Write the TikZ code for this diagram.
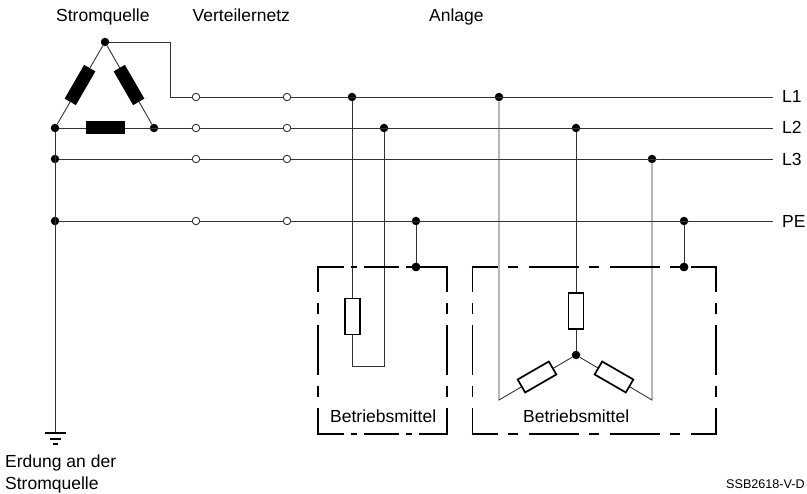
\documentclass[tikz,border=0pt]{standalone}
\usepackage{fontspec}
\setmainfont{Liberation Sans}
\usepackage{tikz}
\usetikzlibrary{calc}
\usetikzlibrary{positioning}

\tikzset{
	wire/.style={line width=0.9pt,color=black!80},
	dot/.style={circle,fill=black,inner sep=0pt,minimum size=8.5pt},
	opendot/.style={circle,draw=black!80,fill=white,line width=0.9pt,inner sep=0pt,minimum size=7.5pt},
	winding/.style={rectangle,fill=black,inner sep=0pt,minimum width=39pt,minimum height=13pt},
	load/.style={rectangle,draw=black,fill=white,line width=1.7pt,inner sep=0pt,minimum width=36pt,minimum height=15pt},
	frame/.style={line width=1.9pt,shorten <=-0.95pt,shorten >=-0.95pt},
	framesmall/.style={frame,dash pattern=on 35pt off 7pt on 6pt off 7pt,dash phase=8pt},
	framewide/.style={frame,dash pattern=on 50pt off 10.5pt on 10pt off 10.5pt,dash phase=24pt},
	frametall/.style={frame,dash pattern=on 50pt off 11pt on 11pt off 11pt,dash phase=24pt},
	label/.style={inner sep=0pt,anchor=base west,font=\fontsize{17.5}{20}\selectfont},
}

\begin{document}
\begin{tikzpicture}[x=1pt,y=-1pt]
	\useasboundingbox (0,0) rectangle (807,494);

	% source triangle
	\node[dot] (top) at (105,42) {};
	\node[dot] (sl) at (55,128) {};
	\node[dot] (sr) at (154,128) {};
	\coordinate (bend a) at (170,42);
	\coordinate (bend b) at (170,97);

	% line ends
	\coordinate (l1 end) at (772.5,97);
	\coordinate (l2 end) at (772.5,128);
	\coordinate (l3 end) at (772.5,159);
	\coordinate (pe end) at (772.5,221);
	\node[dot] (l3 start) at (55,159) {};
	\node[dot] (pe start) at (55,221) {};

	% earth
	\coordinate (earth) at (55,433);
	\coordinate (e1a) at (44.5,433);
	\coordinate (e1b) at (65.5,433);
	\coordinate (e2a) at (49.5,439);
	\coordinate (e2b) at (60.5,439);
	\coordinate (e3a) at (52.5,444);
	\coordinate (e3b) at (57.5,444);

	% tapping points
	\node[dot] (a1) at (352,97) {};
	\node[dot] (a2) at (384,128) {};
	\node[dot] (ape) at (416,221) {};
	\node[dot] (ab) at (416,267) {};
	\node[dot] (b1) at (499,97) {};
	\node[dot] (b2) at (576,128) {};
	\node[dot] (b3) at (652,159) {};
	\node[dot] (bpe) at (684,221) {};
	\node[dot] (bb) at (684,267) {};
	\node[dot] (star) at (576,355) {};

	% free corners of the wires
	\coordinate (a low) at (352,366);
	\coordinate (a ret) at (384,366);
	\coordinate (b low) at (499,400);
	\coordinate (c low) at (652,400);

	% frames
	\coordinate (f1 nw) at (318,267);
	\coordinate (f1 ne) at (447,267);
	\coordinate (f1 sw) at (318,434);
	\coordinate (f1 se) at (447,434);
	\coordinate (f2 nw) at (472.5,267);
	\coordinate (f2 ne) at (716,267);
	\coordinate (f2 sw) at (472.5,434);
	\coordinate (f2 se) at (716,434);

	% wires
	\draw[wire] (top) -- (bend a) -- (bend b) -- (l1 end);
	\draw[wire] (sl) -- (l2 end);
	\draw[wire] (l3 start) -- (l3 end);
	\draw[wire] (pe start) -- (pe end);
	\draw[wire] (sl) -- (earth);
	\draw[wire] (top) -- (sl);
	\draw[wire] (top) -- (sr);
	\draw[wire] (a1) -- (a low) -- (a ret) -- (a2);
	\draw[wire] (ape) -- (ab);
	\draw[wire] (bpe) -- (bb);
	\draw[wire] (b1) -- (b low) -- (star);
	\draw[wire] (b2) -- (star);
	\draw[wire] (b3) -- (c low) -- (star);

	% earth bars
	\draw[line width=1.2pt] (e1a) -- (e1b);
	\draw[line width=1.5pt] (e2a) -- (e2b);
	\draw[line width=1.5pt] (e3a) -- (e3b);

	\foreach \a/\b in {f1 nw/f1 ne,f1 sw/f1 se} {
		\draw[framesmall] (\a) -- (\b);
	}
	\foreach \a/\b in {f2 nw/f2 ne,f2 sw/f2 se} {
		\draw[framewide] (\a) -- (\b);
	}
	\foreach \a/\b in {f1 nw/f1 sw,f1 ne/f1 se,f2 nw/f2 sw,f2 ne/f2 se} {
		\draw[frametall] (\a) -- (\b);
	}

	% redraw dots on top of the frames
	\node[dot] at (ab) {};
	\node[dot] at (bb) {};

	% open terminals
	\foreach \n/\y in {1/97,2/128,3/159,4/221} {
		\node[opendot] (t\n a) at (196,\y) {};
		\node[opendot] (t\n b) at (287,\y) {};
	}

	% windings and loads
	\node[winding,rotate=60] (w1) at (80,85) {};
	\node[winding,rotate=-60] (w2) at (129,85) {};
	\node[winding] (w3) at (105,128) {};
	\node[load,rotate=90] (r1) at (352.5,316.5) {};
	\node[load,rotate=90] (r2) at (576,311) {};
	\node[load,rotate=30] (r3) at (537,377) {};
	\node[load,rotate=-30] (r4) at (614,377) {};

	% texts
	\node[label] (source) at (56,21.5) {Stromquelle};
	\node[label] (grid) at (192.5,21.5) {Verteilernetz};
	\node[label] (plant) at (429,21.5) {Anlage};
	\node[label] (n1) at (782,102.5) {L1};
	\node[label] (n2) at (782,134) {L2};
	\node[label] (n3) at (782,165.5) {L3};
	\node[label] (n4) at (782,227.5) {PE};
	\node[label] (dev a) at (330,423) {Betriebsmittel};
	\node[label] (dev b) at (523,423) {Betriebsmittel};
	\node[label] (earth a) at (5,468) {Erdung an der};
	\node[label] (earth b) at (5,490) {Stromquelle};
	\node[label,font=\fontsize{12.6}{14}\selectfont] (ref) at (726,489) {SSB2618-V-D};
\end{tikzpicture}
\end{document}
